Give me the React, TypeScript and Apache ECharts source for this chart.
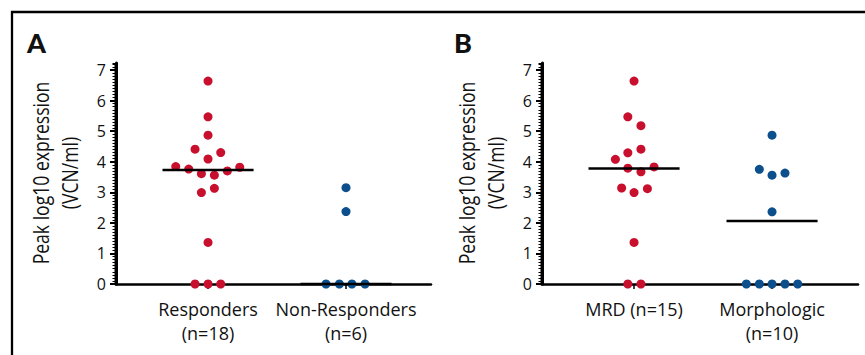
import React, { useEffect, useRef } from "react";
import * as echarts from "echarts";

// ---- data ----
const yTicks = [0, 1, 2, 3, 4, 5, 6, 7];
const categoriesA = ["Responders\n(n=18)", "Non-Responders\n(n=6)"];
const categoriesB = ["MRD (n=15)", "Morphologic\n(n=10)"];

const respondersValues = [6.64, 5.47, 4.87, 4.41, 4.3, 4.09, 3.84, 3.76, 3.82, 3.7, 3.61, 3.56, 2.99, 3.13, 1.36, 0, 0, 0];
const respondersOffsets = [0, 0, 0, -0.094, 0.092, 0, -0.234, -0.14, 0.23, 0.14, -0.048, 0.046, -0.048, 0.046, 0, -0.094, 0, 0.092];

const nonRespondersValues = [3.15, 2.37, 0, 0, 0, 0];
const nonRespondersOffsets = [0, 0, -0.145, -0.048, 0.043, 0.138];

const mrdValues = [6.64, 5.47, 5.18, 4.41, 4.29, 4.08, 3.79, 3.83, 3.67, 3.14, 2.99, 3.12, 1.36, 0, 0];
const mrdOffsets = [0, -0.045, 0.05, 0.05, -0.045, -0.135, -0.045, 0.145, 0.05, -0.09, 0, 0.097, 0, -0.045, 0.05];

const morphValues = [4.87, 3.75, 3.56, 3.63, 2.36, 0, 0, 0, 0, 0];
const morphOffsets = [0, -0.092, 0, 0.094, 0, -0.186, -0.092, 0, 0.094, 0.186];

const mediansA = [3.73, 0];
const mediansB = [3.78, 2.06];

const RED = "#c8102e";
const BLUE = "#0b4f8c";
const INK = "#111111";

const yTitle = "Peak log10 expression\n(VCN/ml)";

const X_MIN = 0.333;
const X_MAX_A = 2.616;
const X_MAX_B = 2.623;
const Y_MAX = 7.23;

function pts(values: number[], offsets: number[], center: number) {
  return values.map((v, i) => [center + offsets[i], v]);
}

export default function App() {
  const ref = useRef<HTMLDivElement>(null);
  useEffect(() => {
    document.body.style.margin = "0";
    const chart = echarts.init(ref.current!, undefined, { renderer: "svg" });
    const yAxisBase = (gridIndex: number) => ({
      type: "value",
      gridIndex,
      min: 0,
      max: Y_MAX,
      interval: 1,
      axisLine: { show: true, onZero: false, lineStyle: { color: "#000", width: 3 } },
      axisTick: { show: true, length: 6, lineStyle: { color: "#000", width: 2 }, customValues: yTicks },
      axisLabel: {
        customValues: yTicks,
        margin: 10,
        fontFamily: "'Open Sans', sans-serif",
        fontSize: 16,
        color: INK,
      },
      splitLine: { show: false },
    });
    const yMinorAxis = (gridIndex: number) => ({
      type: "value",
      gridIndex,
      min: 0,
      max: Y_MAX,
      interval: 0.1,
      position: "left",
      axisLine: { show: false, onZero: false },
      axisTick: { show: true, length: 3.5, lineStyle: { color: "#000", width: 1 } },
      axisLabel: { show: false },
      splitLine: { show: false },
    });
    const xAxisBase = (gridIndex: number, cats: string[], max: number) => ({
      type: "value",
      gridIndex,
      min: X_MIN,
      max,
      axisLine: { show: true, onZero: false, lineStyle: { color: "#000", width: 2.5 } },
      axisTick: { show: true, length: 5, lineStyle: { color: "#000", width: 1.5 }, customValues: [1, 2] },
      axisLabel: {
        customValues: [1, 2],
        formatter: (v: number) => cats[Math.round(v) - 1] ?? "",
        margin: 13,
        fontFamily: "'Open Sans', sans-serif",
        fontSize: 18,
        lineHeight: 24,
        color: INK,
      },
      splitLine: { show: false },
    });
    const scatter = (xi: number, data: number[][], color: string) => ({
      type: "scatter",
      xAxisIndex: xi,
      yAxisIndex: xi,
      data,
      symbol: "circle",
      symbolSize: 9,
      itemStyle: { color, opacity: 1 },
      clip: false,
      z: 5,
    });
    const median = (xi: number, center: number, m: number) => ({
      type: "line",
      xAxisIndex: xi,
      yAxisIndex: xi,
      data: [
        [center - 0.33, m],
        [center + 0.33, m],
      ],
      symbol: "none",
      lineStyle: { color: "#000", width: 2.5 },
      clip: false,
      z: 6,
    });
    const titleText = (x: number) => ({
      type: "text",
      x,
      y: 173,
      rotation: Math.PI / 2,
      scaleX: 0.8,
      style: {
        text: yTitle,
        fontFamily: "'Open Sans', sans-serif",
        fontSize: 22,
        lineHeight: 29,
        fill: INK,
        align: "center",
        verticalAlign: "middle",
      },
      silent: true,
    });
    const baseGraphic: any[] = [
      {
        type: "rect",
        shape: { x: 12, y: 12, width: 900, height: 400 },
        style: { fill: "none", stroke: "#000", lineWidth: 2.3 },
        silent: true,
      },
      {
        type: "text",
        left: 27,
        top: 29,
        style: { text: "A", fontSize: 27, fontWeight: 900, fontFamily: "Lato, sans-serif", fill: INK },
      },
      {
        type: "text",
        left: 454,
        top: 29,
        style: { text: "B", fontSize: 27, fontWeight: 900, fontFamily: "Lato, sans-serif", fill: INK },
      },
      titleText(55),
      titleText(481),
    ];
    chart.setOption({
      animation: false,
      grid: [
        { left: 116, top: 63, width: 315, height: 221, containLabel: false },
        { left: 542, top: 63, width: 316, height: 221, containLabel: false },
      ],
      xAxis: [xAxisBase(0, categoriesA, X_MAX_A), xAxisBase(1, categoriesB, X_MAX_B)],
      yAxis: [yAxisBase(0), yAxisBase(1), yMinorAxis(0), yMinorAxis(1)],
      graphic: baseGraphic,
      series: [
        scatter(0, pts(respondersValues, respondersOffsets, 1), RED),
        scatter(0, pts(nonRespondersValues, nonRespondersOffsets, 2), BLUE),
        scatter(1, pts(mrdValues, mrdOffsets, 1), RED),
        scatter(1, pts(morphValues, morphOffsets, 2), BLUE),
        median(0, 1, mediansA[0]),
        median(0, 2, mediansA[1]),
        median(1, 1, mediansB[0]),
        median(1, 2, mediansB[1]),
      ],
    });
    // solid vertical axis lines, positioned through the grids' own scales
    const axisBars: any[] = [];
    [
      [0, X_MAX_A],
      [1, X_MAX_B],
    ].forEach(([gi, xmax]) => {
      const o = chart.convertToPixel({ gridIndex: gi }, [X_MIN, 0]) as number[];
      const e = chart.convertToPixel({ gridIndex: gi }, [xmax, Y_MAX]) as number[];
      if (!o || !e) return;
      axisBars.push({
        type: "rect",
        z: 10,
        silent: true,
        shape: { x: o[0] - 1.5, y: e[1], width: 3, height: o[1] - e[1] + 1.25 },
        style: { fill: "#000" },
      });
    });
    chart.setOption({ graphic: [...baseGraphic, ...axisBars] });
    return () => chart.dispose();
  }, []);
  return <div ref={ref} style={{ width: 865, height: 355 }} />;
}
